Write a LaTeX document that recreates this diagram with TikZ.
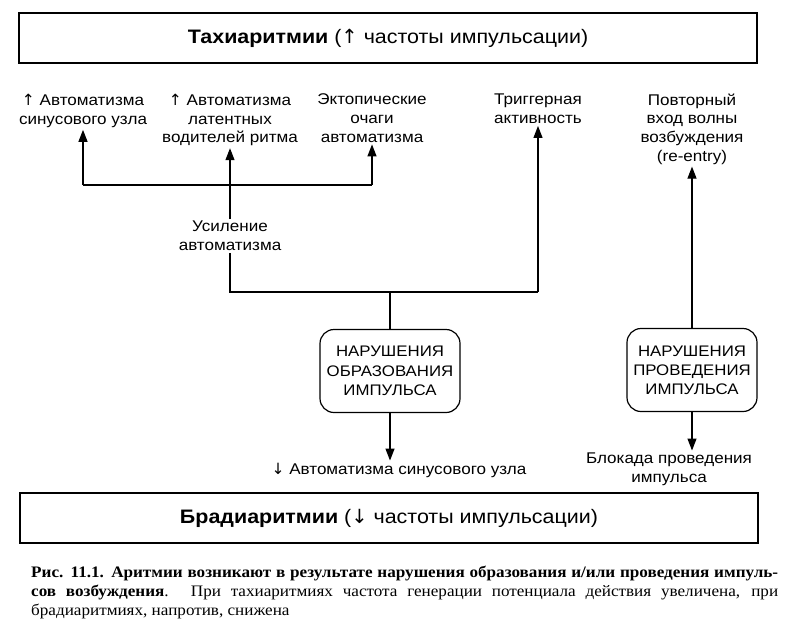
\documentclass[tikz,border=0pt]{standalone}
\usepackage{fontspec}
\setmainfont{Liberation Sans}[FakeStretch=1.1]
\newfontfamily\capfont{Liberation Serif}[FakeStretch=1.07]
\newfontfamily\arrowfont{DejaVu Sans}
\newcommand\uparr{{\arrowfont ↑}}
\newcommand\downarr{{\arrowfont ↓}}
\usetikzlibrary{arrows.meta}

\tikzset{
  headbox/.style={draw, line width=1.6pt, minimum width=738pt, minimum height=50pt,
    font=\fontsize{19.5}{23}\selectfont},
  lbl/.style={align=center, inner sep=2pt, font=\fontsize{15.5}{18.7}\selectfont},
  causebox/.style={draw, rounded corners=14pt, line width=1.2pt, align=center,
    minimum height=83pt, font=\fontsize{15.3}{19.2}\selectfont},
}

\begin{document}
\begin{tikzpicture}[x=1pt, y=-1pt]
              \useasboundingbox (0,0) rectangle (799,625);
              \node[headbox] (tachy) at (388,38) {\textbf{Тахиаритмии} (\uparr\ частоты импульсации)};
              \node[headbox] (brady) at (389,518) {\textbf{Брадиаритмии} (\downarr\ частоты импульсации)};
              \begin{scope}[every node/.style={lbl}]
                \node (sinus)    at (83 ,111) {\uparr\ Автоматизма\\синусового узла};
                \node (latent)   at (230,120) {\uparr\ Автоматизма\\латентных\\водителей ритма};
                \node (ectopic)  at (372,118) {Эктопические\\очаги\\автоматизма};
                \node (trigger)  at (538,109) {Триггерная\\активность};
                \node (reentry)  at (692,129) {Повторный\\вход волны\\возбуждения\\(re-entry)};
                \node (usil)     at (230,236) {Усиление\\автоматизма};
                \node (autodown) at (399,470) {\downarr\ Автоматизма синусового узла};
                \node (block)    at (669,469) {Блокада проведения\\импульса};
              \end{scope}
              \node[causebox, minimum width=140pt] (form) at (390,371) {НАРУШЕНИЯ\\ОБРАЗОВАНИЯ\\ИМПУЛЬСА};
              \node[causebox, minimum width=130pt] (cond) at (692,370) {НАРУШЕНИЯ\\ПРОВЕДЕНИЯ\\ИМПУЛЬСА};
              \coordinate (jl) at (83 ,185);
              \coordinate (jr) at (372,185);
              \coordinate (jm) at (230,292);
              \coordinate (jt) at (538,292);
              \begin{scope}[line width=1.2pt, every edge/.style={draw, -{Triangle[length=12pt,width=9pt]}}]
                \path (usil) edge (latent);
                \path (jl) edge (sinus);
                \path (jr) edge (ectopic);
                \path (jt) edge (trigger);
                \path (cond) edge (reentry);
                \path (form) edge (form.south |- autodown.north);
                \path (cond) edge (cond.south |- block.north);
                \draw (jl) -- (jr);
                \draw (usil) -- (jm) -- (jt);
                \draw (form) -- (form.north |- jm);
              \end{scope}
              \node[anchor=north west, align=left, inner sep=0pt,
                font=\capfont\fontsize{16}{19}\selectfont] (caption) at (31,566)
                {\hbox to 747pt{\bfseries Рис. 11.1. Аритмии возникают в результате нарушения образования и/или проведения импуль-}\\
                 \hbox to 747pt{\textbf{сов возбуждения}. При тахиаритмиях частота генерации потенциала действия увеличена, при}\\
                 брадиаритмиях, напротив, снижена};
            \end{tikzpicture}
\end{document}
